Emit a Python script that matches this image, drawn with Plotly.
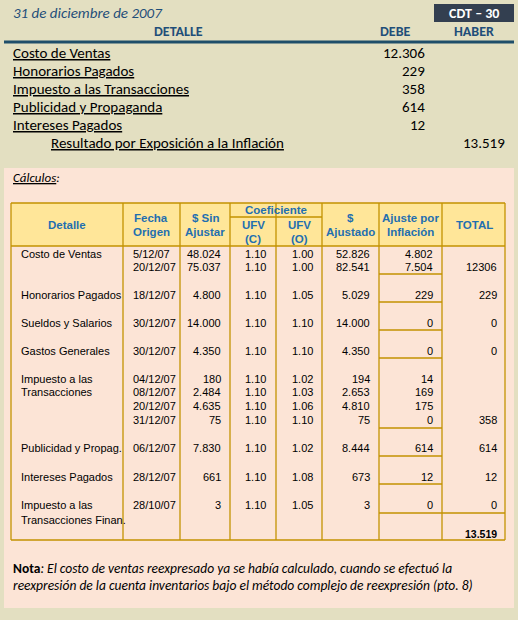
import plotly.graph_objects as go

# Journal entry
asiento_cuentas = ["Costo de Ventas", "Honorarios Pagados", "Impuesto a las Transacciones",
                   "Publicidad y Propaganda", "Intereses Pagados"]
asiento_debe = [12306, 229, 358, 614, 12]
asiento_haber_cuenta = "Resultado por Exposición a la Inflación"
asiento_haber = 13519

# Calculation table (one entry per printed line)
fechas = ["5/12/07", "20/12/07", "18/12/07", "30/12/07", "30/12/07", "04/12/07", "08/12/07",
          "20/12/07", "31/12/07", "06/12/07", "28/12/07", "28/10/07"]
sin_ajustar = [48024, 75037, 4800, 14000, 4350, 180, 2484, 4635, 75, 7830, 661, 3]
ufv_c = [1.10] * 12
ufv_o = [1.00, 1.00, 1.05, 1.10, 1.10, 1.02, 1.03, 1.06, 1.10, 1.02, 1.08, 1.05]
ajustado = [52826, 82541, 5029, 14000, 4350, 194, 2653, 4810, 75, 8444, 673, 3]
ajuste = [4802, 7504, 229, 0, 0, 14, 169, 175, 0, 614, 12, 0]
detalle = ["Costo de Ventas", "", "Honorarios Pagados", "Sueldos y Salarios", "Gastos Generales",
           "Impuesto a las", "Transacciones", "", "", "Publicidad y Propag.", "Intereses Pagados",
           "Impuesto a las"]
detalle_extra = "Transacciones Finan."
total = ["", "12306", "229", "0", "0", "", "", "", "358", "614", "12", "0"]
total_general = 13519

def fmt(v):
    return f"{v:,}".replace(",", ".")

# layout positions (pixels)
line_y = [254, 267, 295, 323, 351, 379, 392, 406, 420, 448, 477, 505]
ajuste_lines = [274, 302, 330, 358, 428, 456, 484]
cols = [11, 123, 180, 230, 276, 322, 379, 442, 505]
t_top, t_head, t_bot = 203, 246, 540

DARK = "#1F4E79"
BLUE = "#1F6FB0"
GOLD = "#C39200"
top_font = "Carlito, Calibri, Lato, sans-serif"
tab_font = "Liberation Sans Narrow, Arial Narrow, Liberation Sans, Arial"

fig = go.Figure()
shapes, ann = [], []

def txt(x, y, s, size=15, color="black", xa="left", fam=top_font):
    ann.append(dict(x=x, y=y, text=s, showarrow=False, xanchor=xa, yanchor="middle",
                    font=dict(size=size, color=color, family=fam)))

def line(x0, y0, x1, y1, color=GOLD, w=1.3):
    shapes.append(dict(type="line", x0=x0, y0=y0, x1=x1, y1=y1, line=dict(color=color, width=w)))

# backgrounds
shapes.append(dict(type="rect", x0=4, y0=168, x1=514, y1=608, fillcolor="#FCE4D6", line=dict(width=0), layer="below"))
shapes.append(dict(type="rect", x0=434, y0=4, x1=514, y1=22, fillcolor="#333F50", line=dict(width=0), layer="below"))
shapes.append(dict(type="rect", x0=cols[0], y0=t_top, x1=cols[-1], y1=t_head, fillcolor="#FFE699", line=dict(width=0), layer="below"))

# top section
txt(11, 13, "<i>31 de diciembre de 2007</i>", 15, DARK)
txt(474, 13, "<b>CDT – 30</b>", 14, "white", "center")
txt(178, 31, "<b>DETALLE</b>", 14, DARK, "center")
txt(395, 31, "<b>DEBE</b>", 14, DARK, "center")
txt(474, 31, "<b>HABER</b>", 14, DARK, "center")
line(4, 42, 514, 42, "#1F4E6A", 3)
for i, (c, d) in enumerate(zip(asiento_cuentas, asiento_debe)):
    y = 53 + 18 * i
    txt(11, y, f"<u>{c}</u>")
    txt(427, y, fmt(d), xa="right")
txt(49, 143, f"<u>{asiento_haber_cuenta}</u>")
txt(507, 143, fmt(asiento_haber), xa="right")
txt(11, 177, "<i><u>Cálculos</u>:</i>", 13)

# table grid
for x in cols:
    line(x, t_top, x, t_bot)
line(cols[0], t_top, cols[-1], t_top)
line(cols[0], t_head, cols[-1], t_head)
line(cols[0], t_bot, cols[-1], t_bot)
line(cols[3], 217, cols[5], 217)
for y in ajuste_lines:
    line(cols[6], y, cols[7], y)
line(cols[6], 513, cols[8], 513)

# header
hs = 11.5
hdr = [(67, ["Detalle"]), (151, ["Fecha", "Origen"]), (205, ["$ Sin", "Ajustar"]),
       (350, ["$", "Ajustado"]), (410, ["Ajuste por", "Inflación"]), (474, ["TOTAL"])]
for x, parts in hdr:
    if len(parts) == 1:
        txt(x, 225, f"<b>{parts[0]}</b>", hs, BLUE, "center", tab_font)
    else:
        txt(x, 218, f"<b>{parts[0]}</b>", hs, BLUE, "center", tab_font)
        txt(x, 232, f"<b>{parts[1]}</b>", hs, BLUE, "center", tab_font)
txt(276, 210, "<b>Coeficiente</b>", hs, BLUE, "center", tab_font)
for x, lab in [(253, "(C)"), (299, "(O)")]:
    txt(x, 225, "<b>UFV</b>", hs, BLUE, "center", tab_font)
    txt(x, 239, f"<b>{lab}</b>", hs, BLUE, "center", tab_font)

fs = 11
for i, y in enumerate(line_y):
    if detalle[i]:
        txt(19, y, detalle[i], fs, fam=tab_font)
    txt(131, y, fechas[i], fs, fam=tab_font)
    txt(223, y, fmt(sin_ajustar[i]), fs, fam=tab_font, xa="right")
    txt(268, y, f"{ufv_c[i]:.2f}", fs, fam=tab_font, xa="right")
    txt(315, y, f"{ufv_o[i]:.2f}", fs, fam=tab_font, xa="right")
    txt(372, y, fmt(ajustado[i]), fs, fam=tab_font, xa="right")
    txt(435, y, fmt(ajuste[i]), fs, fam=tab_font, xa="right")
    if total[i]:
        txt(499, y, total[i], fs, fam=tab_font, xa="right")
txt(19, 520, detalle_extra, fs, fam=tab_font)
txt(499, 534, f"<b>{fmt(total_general)}</b>", 10.5, fam=tab_font, xa="right")

# note
txt(11, 568, "<b>Nota</b><i>: El costo de ventas reexpresado ya se había calculado, cuando se efectuó la</i>", 13.5)
txt(11, 585, "<i>reexpresión de la cuenta inventarios bajo el método complejo de reexpresión (pto. 8)</i>", 13.5)

fig.update_layout(
    width=518, height=620, margin=dict(l=0, r=0, t=0, b=0),
    paper_bgcolor="#E3DFC1", plot_bgcolor="#E3DFC1",
    xaxis=dict(range=[0, 518], visible=False, fixedrange=True),
    yaxis=dict(range=[620, 0], visible=False, fixedrange=True),
    shapes=shapes, annotations=ann, showlegend=False,
)
fig.write_html("out.html", post_script="document.body.style.margin='0px';",
               config={"displayModeBar": False})
